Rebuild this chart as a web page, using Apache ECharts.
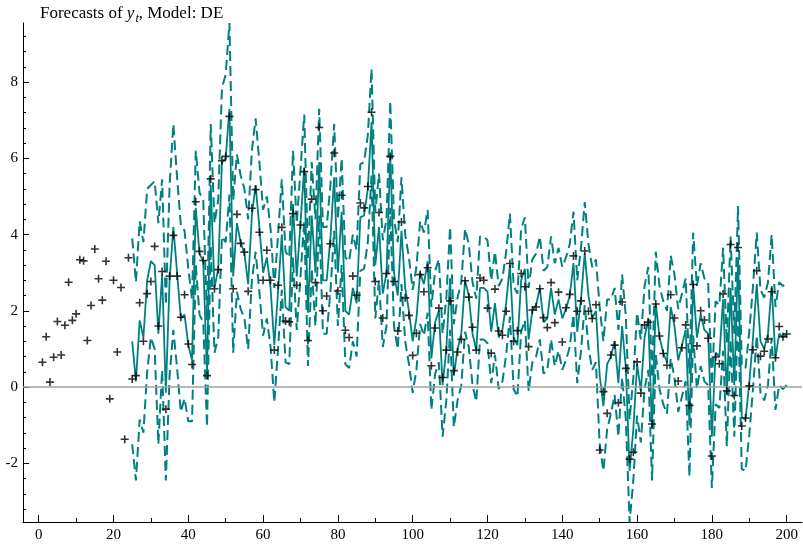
<!DOCTYPE html>
<html>
<head>
<meta charset="utf-8">
<script src="https://cdn.jsdelivr.net/npm/echarts@6/dist/echarts.min.js"></script>
<style>
html,body{margin:0;padding:0;background:#fff;}
#chart{width:803px;height:546px;}
</style>
</head>
<body>
<div id="chart"></div>
<script>
// Actual observations y_t, t = 1..200
const actual = [
  0.65, 1.32, 0.13, 0.78, 1.72, 0.84, 1.62, 2.75, 1.75, 1.92,
  3.34, 3.31, 1.22, 2.14, 3.62, 2.84, 2.28, 3.30, -0.31, 2.80,
  0.92, 2.61, -1.37, 3.39, 0.21, 0.30, 2.21, 1.20, 2.45, 2.77,
  3.69, 1.60, 3.03, -0.58, 2.91, 3.98, 2.91, 1.83, 2.42, 1.13,
  0.59, 4.86, 3.56, 3.32, 0.30, 5.46, 2.58, 3.08, 5.94, 6.05,
  7.10, 2.58, 4.53, 3.77, 3.54, 2.51, 4.69, 5.18, 4.06, 2.80,
  3.59, 2.80, 0.97, 2.67, 4.19, 1.73, 1.71, 4.55, 2.67, 4.25,
  5.65, 1.22, 4.93, 2.74, 6.81, 2.00, 2.39, 3.76, 6.14, 2.52,
  5.03, 1.49, 1.30, 2.91, 2.41, 4.83, 4.70, 5.26, 7.21, 2.77,
  4.58, 1.81, 2.98, 6.05, 2.77, 1.47, 4.33, 2.34, 1.88, 0.83,
  1.41, 2.95, 2.50, 3.13, 0.56, 1.55, 2.07, 0.25, 0.97, 2.26,
  0.43, 0.92, 1.25, 2.79, 2.36, 1.57, 0.97, 2.86, 2.80, 2.07,
  0.89, 2.57, 1.47, 1.36, 1.99, 3.24, 1.20, 1.48, 2.98, 2.63,
  1.06, 2.02, 2.10, 2.58, 1.82, 1.56, 2.74, 1.69, 2.49, 1.18,
  2.08, 2.43, 3.44, 1.99, 2.26, 3.57, 1.99, 1.80, 2.16, -1.65,
  -0.12, -0.69, 0.84, 1.10, -0.41, 2.23, 0.49, -1.89, -1.71, 0.66,
  -0.16, 1.63, 1.70, -0.97, 2.18, 1.34, 0.88, 0.57, 2.42, 1.81,
  0.16, 1.03, 1.63, -0.48, 2.69, 1.08, 2.00, 1.76, 1.28, -1.81,
  0.79, 0.61, 2.44, -0.10, 3.74, -0.22, 3.66, -1.02, -0.81, 0.03,
  0.98, 3.05, 0.81, 0.94, 1.26, 2.50, 0.77, 1.59, 1.32, 1.39
];

// Forecasts start at t = 25
const forecastStart = 25;
const forecast = [
  1.2, 0.15, 1.75, 1.3, 2.8, 3.3, 3.2, 1.4, 2.95, -0.15,
  2.8, 4.2, 3.0, 1.8, 1.9, 1.1, 0.7, 4.7, 3.5, 3.3,
  0.35, 5.3, 2.6, 3.1, 5.9, 6.0, 7.3, 2.9, 4.3, 3.8,
  3.5, 2.7, 4.5, 5.3, 4.2, 3.0, 3.4, 2.6, 1.1, 2.5,
  4.0, 2.1, 2.0, 4.8, 2.9, 4.3, 5.75, 1.95, 4.5, 3.0,
  5.9, 2.8, 2.8, 3.9, 5.5, 3.0, 4.6, 2.0, 1.9, 2.6,
  2.2, 4.45, 4.5, 5.2, 6.95, 3.2, 4.2, 2.45, 3.0, 6.1,
  3.0, 2.4, 4.1, 2.6, 2.0, 1.2, 1.8, 3.0, 2.7, 3.3,
  0.75, 1.7, 2.0, 0.05, 1.0, 2.85, 0.3, 1.0, 1.4, 2.8,
  2.4, 1.4, 0.97, 2.6, 2.6, 2.5, 1.45, 2.2, 1.3, 1.5,
  2.2, 3.2, 1.3, 1.1, 2.8, 3.1, 1.25, 2.0, 2.15, 2.6,
  1.7, 1.8, 2.6, 1.9, 2.3, 1.8, 2.05, 2.4, 3.25, 1.45,
  2.3, 3.5, 2.4, 1.8, 2.0, 0.3, -0.5, 0.6, 0.8, 1.2,
  0.1, 1.6, 0.5, -2.2, -1.1, 0.6, -0.1, 1.3, 1.8, -1.1,
  2.2, 1.3, 0.9, 0.65, 2.1, 1.6, 0.7, 1.1, 1.5, -1.0,
  2.7, 1.3, 1.9, 1.5, 1.4, -1.3, 0.9, 0.8, 2.3, -0.2,
  2.6, 0.05, 3.4, -0.8, -0.85, 0.1, 1.3, 2.7, 1.2, 1.0,
  1.4, 2.65, 0.75, 1.4, 1.3, 1.4
];

// Half-width of the dashed error bands, t = 25..200
const bandHalfWidth = [
  2.7, 2.6, 2.6, 2.5, 2.4, 2.0, 2.2, 2.9, 2.5, 2.3,
  2.5, 2.7, 2.5, 2.45, 2.2, 2.0, 1.6, 1.5, 1.6, 1.6,
  1.4, 1.6, 1.7, 1.8, 1.95, 2.2, 2.25, 2.0, 1.8, 1.75,
  1.7, 1.7, 1.7, 1.75, 1.7, 1.65, 1.6, 1.55, 1.5, 1.5,
  1.45, 1.45, 1.4, 1.4, 1.4, 1.4, 1.4, 1.4, 1.4, 1.4,
  1.4, 1.4, 1.4, 1.4, 1.4, 1.4, 1.4, 1.4, 1.4, 1.4,
  1.4, 1.4, 1.4, 1.4, 1.4, 1.4, 1.4, 1.4, 1.4, 1.4,
  1.4, 1.4, 1.4, 1.4, 1.4, 1.35, 1.35, 1.35, 1.35, 1.35,
  1.35, 1.35, 1.35, 1.35, 1.35, 1.35, 1.35, 1.35, 1.35, 1.35,
  1.35, 1.35, 1.35, 1.35, 1.35, 1.35, 1.35, 1.35, 1.35, 1.35,
  1.35, 1.35, 1.35, 1.35, 1.35, 1.35, 1.35, 1.35, 1.35, 1.35,
  1.35, 1.35, 1.35, 1.35, 1.35, 1.35, 1.35, 1.35, 1.35, 1.35,
  1.35, 1.35, 1.35, 1.35, 1.35, 1.8, 1.7, 1.7, 1.5, 1.4,
  1.4, 1.35, 1.35, 1.35, 1.35, 1.35, 1.35, 1.35, 1.35, 1.35,
  1.35, 1.35, 1.35, 1.35, 1.35, 1.35, 1.35, 1.35, 1.35, 1.35,
  1.35, 1.35, 1.35, 1.35, 1.35, 1.35, 1.35, 1.35, 1.35, 1.35,
  1.35, 1.35, 1.35, 1.35, 1.35, 1.35, 1.35, 1.35, 1.35, 1.35,
  1.35, 1.35, 1.35, 1.35, 1.35, 1.35
];

// Tick values
const xMajorTicks = [0, 20, 40, 60, 80, 100, 120, 140, 160, 180, 200];
const xMinorTicks = [10, 30, 50, 70, 90, 110, 130, 150, 170, 190];
const yMajorTicks = [-2, 0, 2, 4, 6, 8];
const yMinorTicks = [-3.2, -2.8, -2.4, -1.6, -1.2, -0.8, -0.4, 0.4, 0.8, 1.2, 1.6,
  2.4, 2.8, 3.2, 3.6, 4.4, 4.8, 5.2, 5.6, 6.4, 6.8, 7.2, 7.6, 8.4, 8.8, 9.2];

const TEAL = '#008080';
const FONT = 'Liberation Serif';

const actualData = actual.map((v, i) => [i + 1, v]);
const forecastData = forecast.map((v, i) => [i + forecastStart, v]);
const upperData = forecast.map((v, i) => [i + forecastStart, v + bandHalfWidth[i]]);
const lowerData = forecast.map((v, i) => [i + forecastStart, v - bandHalfWidth[i]]);

const xRange = { min: -4.2, max: 204.1 };
const yRange = { min: -3.54, max: 9.55 };

const chart = echarts.init(document.getElementById('chart'), null, { renderer: 'canvas' });
chart.setOption({
  animation: false,
  backgroundColor: '#fff',
  title: {
    left: 40, top: 3, padding: 0,
    text: '{a|Forecasts of }{i|y}{s|t}{a|, Model: DE}',
    textStyle: {
      fontWeight: 'normal',
      rich: {
        a: { fontFamily: FONT, fontSize: 17, fontWeight: 'normal', color: '#000' },
        i: { fontFamily: FONT, fontSize: 17, fontWeight: 'normal', fontStyle: 'italic', color: '#000' },
        s: { fontFamily: FONT, fontSize: 12, fontWeight: 'normal', fontStyle: 'italic', color: '#000', padding: [10, 0, 0, 1] }
      }
    }
  },
  grid: { left: 23, right: 1, top: 23, bottom: 24, containLabel: false },
  xAxis: [{
    type: 'value', min: xRange.min, max: xRange.max, position: 'bottom',
    axisLine: { show: true, onZero: false, lineStyle: { color: '#000', width: 1 } },
    axisTick: { show: true, inside: true, length: 7, customValues: xMajorTicks, lineStyle: { color: '#000' } },
    axisLabel: { show: true, customValues: xMajorTicks, fontFamily: FONT, fontSize: 15, color: '#000', margin: 6 },
    splitLine: { show: false }
  }, {
    type: 'value', min: xRange.min, max: xRange.max, position: 'bottom',
    axisLine: { show: false, onZero: false },
    axisTick: { show: true, inside: true, length: 4, customValues: xMinorTicks, lineStyle: { color: '#000' } },
    axisLabel: { show: false },
    splitLine: { show: false }
  }],
  yAxis: [{
    type: 'value', min: yRange.min, max: yRange.max, position: 'left',
    axisLine: { show: true, onZero: false, lineStyle: { color: '#000', width: 1 } },
    axisTick: { show: true, inside: true, length: 6, customValues: yMajorTicks, lineStyle: { color: '#000' } },
    axisLabel: { show: true, customValues: yMajorTicks, fontFamily: FONT, fontSize: 15, color: '#000', margin: 5,
      formatter: v => String(v) },
    splitLine: { show: false }
  }, {
    type: 'value', min: yRange.min, max: yRange.max, position: 'left',
    axisLine: { show: false, onZero: false },
    axisTick: { show: true, inside: true, length: 3, customValues: yMinorTicks, lineStyle: { color: '#000' } },
    axisLabel: { show: false },
    splitLine: { show: false }
  }],
  series: [
    {
      name: 'zero', type: 'line', data: [], z: 1, silent: true,
      markLine: {
        silent: true, symbol: 'none', label: { show: false },
        lineStyle: { color: '#a0a0a0', width: 1.5, type: 'solid' },
        data: [{ yAxis: 0 }]
      }
    },
    {
      name: 'lower', type: 'line', data: lowerData, showSymbol: false, z: 2,
      lineStyle: { color: TEAL, width: 2, type: [10, 5] }
    },
    {
      name: 'upper', type: 'line', data: upperData, showSymbol: false, z: 2,
      lineStyle: { color: TEAL, width: 2, type: [10, 5] }
    },
    {
      name: 'forecast', type: 'line', data: forecastData, showSymbol: false, z: 3,
      lineStyle: { color: TEAL, width: 1.8 }
    },
    {
      name: 'actual', type: 'scatter', data: actualData, z: 5,
      symbol: 'path://M6,0H9V6H15V9H9V15H6V9H0V6H6Z', symbolSize: 8,
      itemStyle: { color: '#000' }
    }
  ]
});
</script>
</body>
</html>
